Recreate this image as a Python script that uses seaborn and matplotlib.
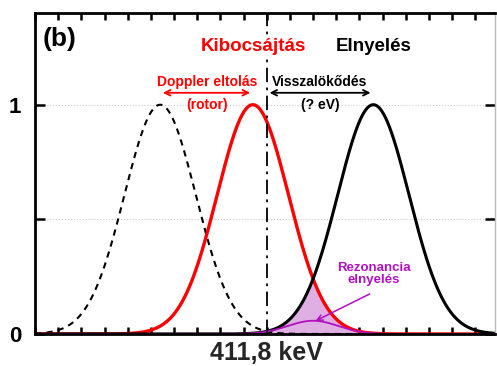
import numpy as np
import pandas as pd
import seaborn as sns
import matplotlib.pyplot as plt

# line parameters (x in arbitrary energy units, 0 = 411,8 keV)
line_names = ['eredeti', 'Kibocsájtás', 'Elnyelés']
line_centers = [-4.6, -0.6, 4.6]
line_sigmas = [1.54, 1.54, 1.54]
line_heights = [1.0, 1.0, 1.0]

y_ticks = [0, 0.5, 1]
y_ticklabels = ['0', '', '1']
x_label = '411,8 keV'

sns.set_style('ticks')
plt.rcParams['font.family'] = ['Liberation Sans', 'DejaVu Sans']
plt.rcParams['font.weight'] = 'bold'
plt.rcParams['text.color'] = 'black'

x = np.linspace(-10, 9.85, 800)
curves = {}
for name, c, s, h in zip(line_names, line_centers, line_sigmas, line_heights):
    curves[name] = h * np.exp(-(x - c) ** 2 / (2 * s ** 2))
df = pd.DataFrame({'x': x, **curves})
df['rez'] = df['Kibocsájtás'] * df['Elnyelés']

purple = '#b010c0'

fig = plt.figure(figsize=(4.97, 3.66), dpi=100)
ax = fig.add_axes([35 / 497, 32 / 366, 460 / 497, 321 / 366])


def setup_x():
    ax.set_xlim(-10, 9.85)
    ax.set_ylim(0, 1.4)
    xt = list(range(-10, 10))
    ax.set_xticks(xt)
    ax.set_xticklabels([x_label if v == 0 else '' for v in xt])
    ax.tick_params(axis='x', which='major', direction='in', length=5, width=1.8,
                   color='black', top=True, bottom=True, labelsize=18, pad=5)


setup_x()
fig.canvas.draw()

for yv in [0.5, 1]:
    ax.axhline(yv, color='#cccccc', lw=0.8, ls=':', zorder=0)

ax.fill_between(df['x'], 0, np.minimum(df['Kibocsájtás'], df['Elnyelés']),
                color='#dfaee2', lw=0, zorder=1)

sns.lineplot(data=df, x='x', y='eredeti', ax=ax, color='black', lw=1.5,
             linestyle=(0, (3, 2.5)), sort=False)
sns.lineplot(data=df, x='x', y='Kibocsájtás', ax=ax, color='#ff0000', lw=2.4, sort=False)
sns.lineplot(data=df, x='x', y='Elnyelés', ax=ax, color='black', lw=2.2, sort=False)
sns.lineplot(data=df, x='x', y='rez', ax=ax, color=purple, lw=1.3, sort=False)

ax.axvline(0, color='black', lw=1.3, linestyle=(0, (8, 3, 1.5, 3)), zorder=3)

ax.set_xlabel('')
ax.set_ylabel('')

for side in ['left', 'bottom', 'top']:
    ax.spines[side].set_linewidth(2)
    ax.spines[side].set_color('black')
ax.spines['right'].set_linewidth(1)
ax.spines['right'].set_color('#bbbbbb')

ax.text(-8.95, 1.288, '(b)', fontsize=19, fontweight='bold', ha='center', va='center',
        color='black')
ax.text(-0.57, 1.253, 'Kibocsájtás', color='#ff0000', fontsize=13.5, fontweight='bold',
        ha='center', va='center', zorder=5,
        bbox=dict(facecolor='white', edgecolor='none', pad=1))
ax.text(4.61, 1.253, 'Elnyelés', color='black', fontsize=13.5, fontweight='bold',
        ha='center', va='center')

ax.annotate('', xy=(line_centers[0], 1.052), xytext=(line_centers[1], 1.052),
            arrowprops=dict(arrowstyle='<->', color='#ff0000', lw=1.3))
ax.text(-2.58, 1.10, 'Doppler eltolás', color='#ff0000', fontsize=10, fontweight='bold',
        ha='center', va='center')
ax.text(-2.58, 1.0, '(rotor)', color='#ff0000', fontsize=10, fontweight='bold',
        ha='center', va='center')

ax.annotate('', xy=(0, 1.052), xytext=(line_centers[2], 1.052),
            arrowprops=dict(arrowstyle='<->', color='black', lw=1.3))
ax.text(2.3, 1.10, 'Visszalökődés', color='black', fontsize=10, fontweight='bold',
        ha='center', va='center')
ax.text(2.3, 1.0, '(? eV)', color='black', fontsize=10, fontweight='bold',
        ha='center', va='center')

ax.text(4.62, 0.262, 'Rezonancia\nelnyelés', color=purple, fontsize=9.5, fontweight='bold',
        ha='center', va='center', linespacing=1.0)
ax.annotate('', xy=(2.0, 0.052), xytext=(4.55, 0.18),
            arrowprops=dict(arrowstyle='->', color=purple, lw=1.1))

ax.set_yticks(y_ticks)
ax.set_yticklabels(y_ticklabels, fontweight='bold', color='black')
ax.tick_params(axis='y', which='major', direction='in', length=7, width=1.8,
               color='black', left=True, right=True, labelsize=16, pad=10)

# x axis set again last, after the y axis setup
setup_x()
fig.canvas.draw()

fig.savefig('out.png', dpi=100)
